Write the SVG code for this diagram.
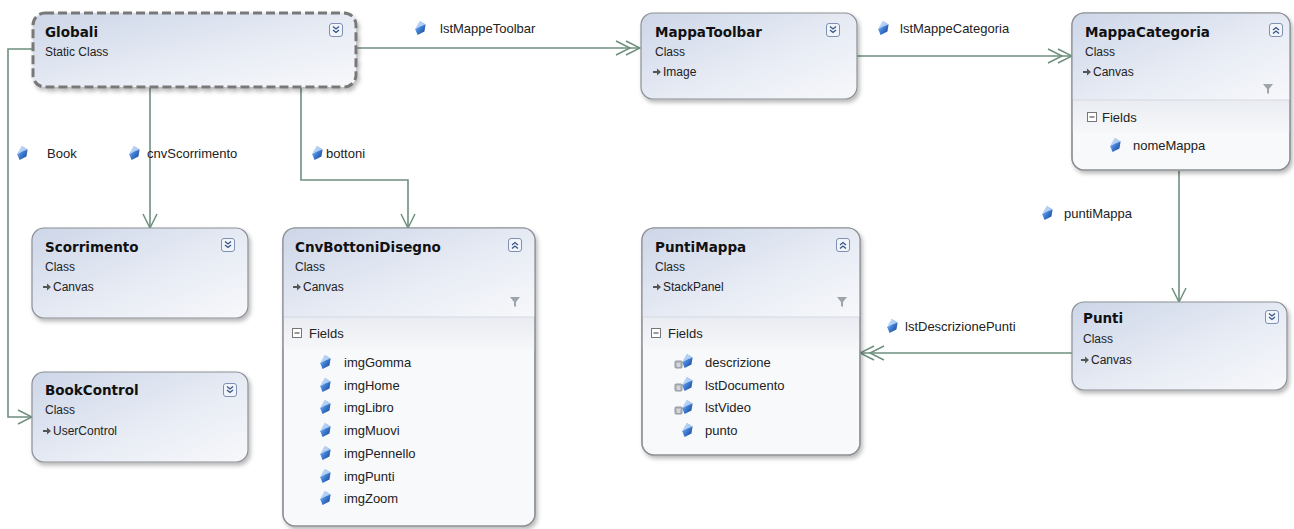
<svg xmlns="http://www.w3.org/2000/svg" width="1294" height="529" viewBox="0 0 1294 529">
<defs>
<linearGradient id="hg" x1="0" y1="0" x2="1" y2="1">
<stop offset="0" stop-color="#cdd6e8"/>
<stop offset="0.6" stop-color="#e9edf5"/>
<stop offset="1" stop-color="#f7f8fb"/>
</linearGradient>
<linearGradient id="fg" x1="0" y1="0" x2="0" y2="1">
<stop offset="0" stop-color="#e9ecf2"/>
<stop offset="1" stop-color="#f6f7f9"/>
</linearGradient>
<linearGradient id="gem" x1="0" y1="0" x2="1" y2="1">
<stop offset="0" stop-color="#a8ccf5"/>
<stop offset="0.5" stop-color="#3f7fd6"/>
<stop offset="1" stop-color="#163e87"/>
</linearGradient>
<filter id="sh" x="-10%" y="-10%" width="125%" height="130%">
<feDropShadow dx="2" dy="3" stdDeviation="2" flood-color="#000" flood-opacity="0.28"/>
</filter>
<marker id="a1" viewBox="0 0 16 16" markerWidth="16" markerHeight="16" refX="15" refY="8" orient="auto" markerUnits="userSpaceOnUse">
<path d="M1,1 L15,8 L1,15" fill="none" stroke="#6e8f7e" stroke-width="1.5"/>
</marker>
<marker id="a2" viewBox="0 0 26 16" markerWidth="26" markerHeight="16" refX="25" refY="8" orient="auto" markerUnits="userSpaceOnUse">
<path d="M1,1 L15,8 L1,15 M11,1 L25,8 L11,15" fill="none" stroke="#6e8f7e" stroke-width="1.5"/>
</marker>
<g id="fi"><g transform="scale(1.15)"><path d="M-1,-6 L4,-3 L3,3 L-3,6 L-5,1 Z" fill="url(#gem)"/><path d="M-1,-6 L4,-3 L-1,-1 L-5,1 Z" fill="#c9def8" opacity="0.8"/></g></g>
<g id="po"><rect x="-5" y="-3" width="7" height="7" rx="1" fill="#b9bcc2" stroke="#7d8289" stroke-width="0.8"/><path d="M-3,0 L0,0 M-3,2 L0,2" stroke="#fff" stroke-width="0.8"/></g>
<g id="bd"><rect x="-6.5" y="-6.5" width="13" height="13" rx="2.5" fill="#f1f4f9" stroke="#7f90b2"/><path d="M-3,-3.5 L0,-1 L3,-3.5 M-3,0 L0,2.5 L3,0" fill="none" stroke="#35548a" stroke-width="1.3"/></g>
<g id="bu"><rect x="-6.5" y="-6.5" width="13" height="13" rx="2.5" fill="#f1f4f9" stroke="#7f90b2"/><path d="M-3,0 L0,-2.5 L3,0 M-3,3.5 L0,1 L3,3.5" fill="none" stroke="#35548a" stroke-width="1.3"/></g>
<g id="fn"><path d="M-5,-5 L5,-5 L1,0 L1,5 L-1,4 L-1,0 Z" fill="#9ea4ab"/></g>
<g id="ia"><path d="M-4,-1 L0,-1 L0,-3.5 L4,0 L0,3.5 L0,1 L-4,1 Z" fill="#555"/></g>
<g id="mb"><rect x="-4.5" y="-4.5" width="9" height="9" fill="#fff" stroke="#777"/><path d="M-2.5,0 L2.5,0" stroke="#333"/></g>
</defs>
<style>
.box{fill:url(#hg);stroke:#8c8f94;stroke-width:1.2}
.body{fill:#f8f9fb;stroke:#8c8f94;stroke-width:1.2}
.edge{fill:none;stroke:#8c8f94;stroke-width:1.2}
.t{font-family:"DejaVu Sans",sans-serif;font-weight:bold;font-size:13.5px;fill:#111}
.s{font-family:"Liberation Sans",Arial,sans-serif;font-size:12px;fill:#222}
.f{font-family:"Liberation Sans",Arial,sans-serif;font-size:13px;fill:#222}
.l{font-family:"Liberation Sans",Arial,sans-serif;font-size:13px;fill:#222}
.c{fill:none;stroke:#6e8f7e;stroke-width:1.6}
</style>
<rect width="1294" height="529" fill="#fff"/>

<g id="connectors">
<path class="c" d="M357,48 L640,48" marker-end="url(#a2)"/>
<path class="c" d="M857,56 L1072,56" marker-end="url(#a2)"/>
<path class="c" d="M1179,171 L1179,302" marker-end="url(#a1)"/>
<path class="c" d="M1072,353 L860,353" marker-end="url(#a2)"/>
<path class="c" d="M150,88 L150,228" marker-end="url(#a1)"/>
<path class="c" d="M301,88 L301,180 L408,180 L408,228" marker-end="url(#a1)"/>
<path class="c" d="M33,49 L8,49 L8,417 L32,417" marker-end="url(#a1)"/>
<use href="#fi" x="421" y="28"/><text class="l" x="440" y="33">lstMappeToolbar</text>
<use href="#fi" x="884" y="28"/><text class="l" x="900" y="33">lstMappeCategoria</text>
<use href="#fi" x="23" y="153"/><text class="l" x="47" y="158">Book</text>
<use href="#fi" x="135" y="153"/><text class="l" x="147" y="158">cnvScorrimento</text>
<use href="#fi" x="318" y="153"/><text class="l" x="326" y="158">bottoni</text>
<use href="#fi" x="1048" y="213"/><text class="l" x="1064" y="218">puntiMappa</text>
<use href="#fi" x="893" y="326"/><text class="l" x="905" y="331">lstDescrizionePunti</text>
</g>

<g id="n-globali">
<rect x="33" y="13" width="323" height="74" rx="12" fill="url(#hg)" stroke="#787878" stroke-width="3" stroke-dasharray="9,4" filter="url(#sh)"/>
<text class="t" x="45" y="37">Globali</text>
<text class="s" x="45" y="56">Static Class</text>
<use href="#bd" x="336" y="30"/>
</g>

<g id="n-mappatoolbar">
<rect class="box" x="641" y="13" width="216" height="86" rx="12" filter="url(#sh)"/>
<text class="t" x="655" y="37">MappaToolbar</text>
<text class="s" x="655" y="56">Class</text>
<use href="#ia" x="657" y="72"/><text class="s" x="663" y="76">Image</text>
<use href="#bd" x="833" y="30"/>
</g>

<g id="n-mappacategoria">
<rect class="body" x="1072" y="13" width="218" height="157" rx="12" filter="url(#sh)"/>
<path d="M1072,100 L1072,25 Q1072,13 1084,13 L1278,13 Q1290,13 1290,25 L1290,100 Z" fill="url(#hg)"/>
<rect x="1072.6" y="100" width="216.8" height="32" fill="url(#fg)"/>
<path d="M1072,100 L1290,100" stroke="#d5d9e0"/>
<rect class="edge" x="1072" y="13" width="218" height="157" rx="12"/>
<text class="t" x="1085" y="37">MappaCategoria</text>
<text class="s" x="1085" y="56">Class</text>
<use href="#ia" x="1087" y="72"/><text class="s" x="1093" y="76">Canvas</text>
<use href="#fn" x="1268" y="89"/>
<use href="#bu" x="1276" y="30"/>
<use href="#mb" x="1092" y="117"/><text class="f" x="1102" y="122">Fields</text>
<use href="#fi" x="1116" y="145"/><text class="f" x="1133" y="150">nomeMappa</text>
</g>

<g id="n-scorrimento">
<rect class="box" x="32" y="228" width="216" height="90" rx="12" filter="url(#sh)"/>
<text class="t" x="45" y="252">Scorrimento</text>
<text class="s" x="45" y="271">Class</text>
<use href="#ia" x="47" y="287"/><text class="s" x="53" y="291">Canvas</text>
<use href="#bd" x="228" y="245"/>
</g>

<g id="n-cnvbottonidisegno">
<rect class="body" x="283" y="228" width="252" height="298" rx="12" filter="url(#sh)"/>
<path d="M283,317 L283,240 Q283,228 295,228 L523,228 Q535,228 535,240 L535,317 Z" fill="url(#hg)"/>
<rect x="283.6" y="317" width="250.8" height="32" fill="url(#fg)"/>
<path d="M283,317 L535,317" stroke="#d5d9e0"/>
<rect class="edge" x="283" y="228" width="252" height="298" rx="12"/>
<text class="t" x="295" y="252">CnvBottoniDisegno</text>
<text class="s" x="295" y="271">Class</text>
<use href="#ia" x="297" y="287"/><text class="s" x="303" y="291">Canvas</text>
<use href="#fn" x="515" y="302"/>
<use href="#bu" x="515" y="245"/>
<use href="#mb" x="297" y="333"/><text class="f" x="309" y="338">Fields</text>
<use href="#fi" x="326" y="362"/><text class="f" x="344" y="367">imgGomma</text>
<use href="#fi" x="326" y="385"/><text class="f" x="344" y="390">imgHome</text>
<use href="#fi" x="326" y="407"/><text class="f" x="344" y="412">imgLibro</text>
<use href="#fi" x="326" y="430"/><text class="f" x="344" y="435">imgMuovi</text>
<use href="#fi" x="326" y="453"/><text class="f" x="344" y="458">imgPennello</text>
<use href="#fi" x="326" y="476"/><text class="f" x="344" y="481">imgPunti</text>
<use href="#fi" x="326" y="498"/><text class="f" x="344" y="503">imgZoom</text>
</g>

<g id="n-puntimappa">
<rect class="body" x="642" y="228" width="218" height="227" rx="12" filter="url(#sh)"/>
<path d="M642,317 L642,240 Q642,228 654,228 L848,228 Q860,228 860,240 L860,317 Z" fill="url(#hg)"/>
<rect x="642.6" y="317" width="216.8" height="32" fill="url(#fg)"/>
<path d="M642,317 L860,317" stroke="#d5d9e0"/>
<rect class="edge" x="642" y="228" width="218" height="227" rx="12"/>
<text class="t" x="655" y="252">PuntiMappa</text>
<text class="s" x="655" y="271">Class</text>
<use href="#ia" x="657" y="287"/><text class="s" x="663" y="291">StackPanel</text>
<use href="#fn" x="842" y="302"/>
<use href="#bu" x="843" y="245"/>
<use href="#mb" x="656" y="333"/><text class="f" x="668" y="338">Fields</text>
<use href="#fi" x="688" y="361"/><use href="#po" x="680" y="364"/><text class="f" x="705" y="367">descrizione</text>
<use href="#fi" x="688" y="384"/><use href="#po" x="680" y="387"/><text class="f" x="705" y="390">lstDocumento</text>
<use href="#fi" x="688" y="407"/><use href="#po" x="680" y="410"/><text class="f" x="705" y="412">lstVideo</text>
<use href="#fi" x="688" y="430"/><text class="f" x="705" y="435">punto</text>
</g>

<g id="n-punti">
<rect class="box" x="1072" y="302" width="215" height="88" rx="12" filter="url(#sh)"/>
<text class="t" x="1083" y="323">Punti</text>
<text class="s" x="1083" y="343">Class</text>
<use href="#ia" x="1085" y="360"/><text class="s" x="1091" y="364">Canvas</text>
<use href="#bd" x="1272" y="317"/>
</g>

<g id="n-bookcontrol">
<rect class="box" x="32" y="372" width="216" height="90" rx="12" filter="url(#sh)"/>
<text class="t" x="45" y="395">BookControl</text>
<text class="s" x="45" y="414">Class</text>
<use href="#ia" x="47" y="431"/><text class="s" x="53" y="435">UserControl</text>
<use href="#bd" x="230" y="390"/>
</g>
</svg>
